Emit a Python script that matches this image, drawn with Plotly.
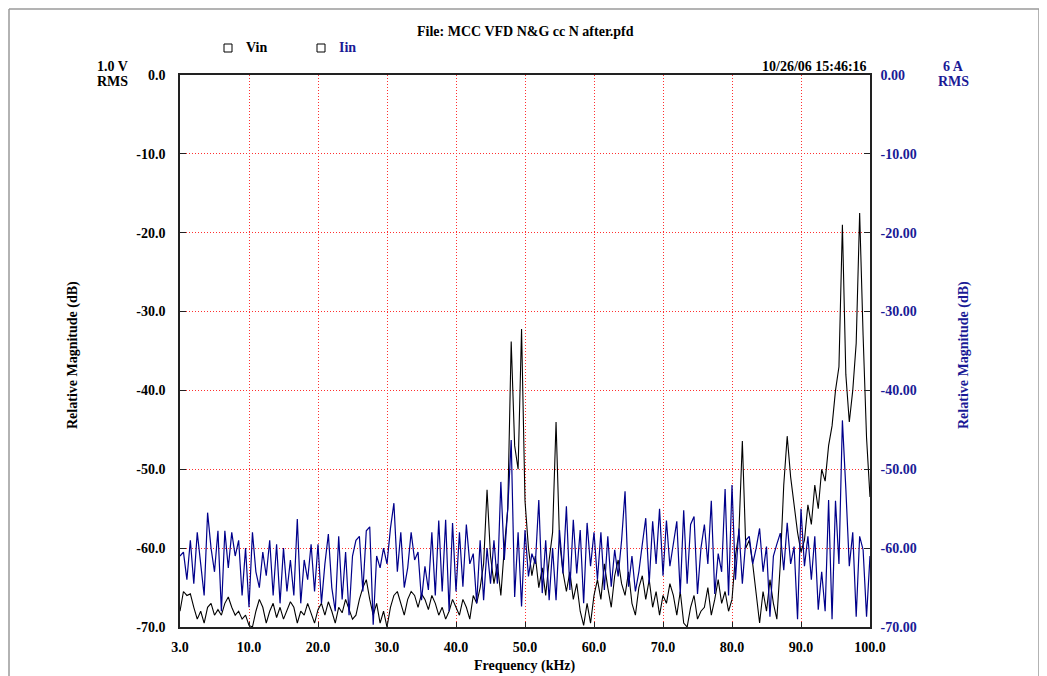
import plotly.graph_objects as go

# Frequency axis positions (axis units 0..100, first tick labelled 3.0 kHz)
freq_step = 0.5
freq = [i * freq_step for i in range(201)]

x_tick_vals = [0, 10, 20, 30, 40, 50, 60, 70, 80, 90, 100]
x_tick_text = ["3.0", "10.0", "20.0", "30.0", "40.0", "50.0", "60.0", "70.0", "80.0", "90.0", "100.0"]
y_tick_vals = [0, -10, -20, -30, -40, -50, -60, -70]
y_left_text = ["0.0", "-10.0", "-20.0", "-30.0", "-40.0", "-50.0", "-60.0", "-70.0"]
y_right_text = ["0.00", "-10.00", "-20.00", "-30.00", "-40.00", "-50.00", "-60.00", "-70.00"]

vin_db = [
    -68, -65.5, -66, -65.8, -67.5, -69, -68, -69.5, -67.5, -67, -68.5, -67.8, -68.5, -67, -66.2, -67.5, -68.5, -68, -69, -68.5, -69.8,
    -70, -68, -66.5, -67.5, -69.5, -68, -67, -68.8, -67.5, -69, -68, -66.8, -67.5, -69.5, -68, -68.5, -67, -68.2, -69.5, -67.8,
    -67, -68.5, -66.8, -68, -69.5, -67.5, -68.2, -66.5, -67.8, -69, -68.5, -66.5, -65, -64, -66.5, -68.5, -67, -69.5, -68, -70,
    -67.5, -66, -65.5, -67, -68.5, -66.5, -65.5, -66, -67.5, -65.8, -66.5, -67.8, -66, -67, -68.5, -67.5, -69, -68, -66.5, -67.5,
    -68.5, -66.5, -67.5, -69, -66, -67, -65, -62, -52.6, -61, -64.5, -62, -66, -60, -55, -33.8, -47, -50, -32.2, -54,
    -60, -63.5, -61, -65, -62.5, -66, -61.5, -58, -44, -59, -63, -65.5, -63, -66.5, -64.5, -68, -69.8, -67, -69.5, -66,
    -64, -66.5, -62, -65, -67.5, -63.5, -61.5, -64.5, -66, -63, -67, -68.5, -65, -63.5, -66.5, -64, -67.5, -65.5, -68.5, -66,
    -67, -64.5, -66, -68.5, -65.5, -69.5, -70, -67.5, -66, -69, -68, -67.5, -65, -68.5, -66.5, -64, -67, -65.5, -68, -66.5,
    -61, -58, -46.4, -60, -59, -62, -66, -69.5, -65.5, -68, -64, -67, -69, -62, -52, -45.8, -51, -54.5, -58, -60.5,
    -59, -54.5, -57, -52, -55, -50, -51.5, -47, -44.5, -40, -37, -19, -38, -44, -40, -34, -17.5, -33, -46, -53.5,
]

iin_db = [
    -61, -60.5, -64, -59, -64.5, -58, -62, -66, -55.5, -60, -63, -57.8, -68, -57.8, -62.5, -58, -61, -59, -66, -60, -67.5,
    -58, -63, -65, -60.5, -63.5, -59, -66, -59.5, -67, -60, -65.5, -61.5, -66, -56.3, -67, -61.5, -64, -59.5, -65.5, -59.5,
    -67, -62, -58.2, -65, -68, -58.5, -66.5, -60.5, -68.5, -61, -59, -58.5, -65.5, -57.8, -57.3, -69.7, -61, -62.5, -60, -62,
    -57.5, -54.3, -63, -58, -65, -62.5, -58, -61.5, -60.5, -66.6, -62.3, -65.3, -58, -66, -56.5, -65.5, -56.4, -68, -56.8, -65.5,
    -58, -64.9, -57, -62, -60.7, -67, -59, -66.6, -60, -64.5, -59, -64.5, -51.6, -61.5, -55, -46.3, -66.2, -58, -67.4, -57.7,
    -63.6, -60.7, -62, -53.9, -65.7, -59, -66.6, -60, -66.6, -57.7, -63.2, -54.7, -65.3, -56.4, -63.2, -57.7, -67, -56.8, -62.3, -58,
    -64, -58, -65.3, -58.5, -64.9, -60.2, -63.6, -59, -52.8, -64.9, -61, -65.5, -63, -59.5, -56.2, -64.5, -56.6, -62, -55, -63.5,
    -56.5, -62.3, -59.3, -56.6, -65.8, -55.2, -64.5, -57, -56, -65.8, -60, -57, -62, -54, -65.8, -60.7, -63, -52.5, -66, -52,
    -64, -57.5, -64.5, -59, -58.5, -62, -60, -57.5, -63, -59.8, -68.7, -61, -59.5, -58.1, -62.8, -56.8, -62, -59.8, -69, -55,
    -62.3, -58.5, -64, -58.5, -67.8, -63, -68, -53.9, -69, -54, -62, -43.8, -52.5, -62.3, -58, -68.7, -58.5, -60.2, -68.7, -61,
]

BLACK = "#000000"
NAVY = "#00008B"
LABEL_BLUE = "#1a1a96"
FONT = "Liberation Serif"

OFF = 8  # page body margin in the browser
W, H = 1047 - OFF, 676 - OFF
L, R, T, B = 180 - OFF, 870 - OFF, 75 - OFF, 627 - OFF


def px(x):
    return (x - OFF - L) / (R - L)


def py(y):
    return (B - (y - OFF)) / (B - T)


fig = go.Figure()
fig.add_trace(go.Scatter(x=freq, y=vin_db, mode="lines", name="Vin",
                         line=dict(color=BLACK, width=1.1), showlegend=False))
fig.add_trace(go.Scatter(x=freq, y=iin_db, mode="lines", name="Iin", yaxis="y2",
                         line=dict(color=NAVY, width=1.2), showlegend=False))

tick_font = dict(family=FONT, size=14, color=BLACK, weight="bold")
GRID = "#ff3030"

fig.update_layout(
    width=W, height=H,
    margin=dict(l=L, r=W - R, t=T, b=H - B),
    paper_bgcolor="white", plot_bgcolor="white",
    xaxis=dict(range=[0, 100], tickvals=x_tick_vals, ticktext=x_tick_text,
               showgrid=True, gridcolor=GRID, griddash="1px,2px", gridwidth=1,
               zeroline=False, showline=True, linecolor="#222222", linewidth=1.5, mirror=True,
               ticks="inside", ticklen=5, tickcolor="#222222", tickfont=tick_font,
               ticklabelstandoff=6),
    yaxis=dict(range=[-70, 0], tickvals=y_tick_vals, ticktext=y_left_text,
               showgrid=True, gridcolor=GRID, griddash="1px,2px", gridwidth=1,
               zeroline=False, showline=True, linecolor="#222222", linewidth=1.5, mirror=True,
               ticks="inside", ticklen=6, tickcolor="#222222", tickfont=tick_font,
               ticklabelstandoff=10),
    yaxis2=dict(range=[-70, 0], tickvals=y_tick_vals, ticktext=y_right_text,
                overlaying="y", side="right", showgrid=False, zeroline=False,
                showline=True, linecolor="#222222", linewidth=1.5,
                ticks="inside", ticklen=6, tickcolor="#222222",
                tickfont=dict(family=FONT, size=14, color=LABEL_BLUE, weight="bold"),
                ticklabelstandoff=6),
)


def ann(text, x, y, size=14, color=BLACK, xanchor="center", angle=0):
    fig.add_annotation(text=text, x=px(x), y=py(y), xref="paper", yref="paper",
                       showarrow=False, xanchor=xanchor, yanchor="middle",
                       textangle=angle,
                       font=dict(family=FONT, size=size, color=color, weight="bold"))


ann("File: MCC VFD N&amp;G cc N after.pfd", 525, 32)
ann("Vin", 244, 48, xanchor="left")
ann("Iin", 337, 48, color=LABEL_BLUE, xanchor="left")
ann("1.0 V", 112, 66)
ann("RMS", 112, 82)
ann("10/26/06 15:46:16", 869, 66, xanchor="right")
ann("6 A", 953, 66, color=LABEL_BLUE)
ann("RMS", 953, 82, color=LABEL_BLUE)
ann("Relative Magnitude (dB)", 73, 355, size=14, angle=-90)
ann("Relative Magnitude (dB)", 964, 355, size=14, color=LABEL_BLUE, angle=-90)
ann("Frequency (kHz)", 525, 666)

# legend boxes
for x0 in (224, 317):
    fig.add_shape(type="rect", xref="paper", yref="paper",
                  x0=px(x0), x1=px(x0 + 8), y0=py(52), y1=py(44),
                  line=dict(color=BLACK, width=1), fillcolor="white")

# page frame (top, left and right edges)
frame = dict(color="#9a9a9a", width=1.5)
fig.add_shape(type="line", xref="paper", yref="paper",
              x0=px(OFF + 1), x1=px(1039), y0=py(OFF + 1), y1=py(OFF + 1), line=frame)
fig.add_shape(type="line", xref="paper", yref="paper",
              x0=px(OFF + 1), x1=px(OFF + 1), y0=py(OFF + 1), y1=py(676), line=frame)
fig.add_shape(type="line", xref="paper", yref="paper",
              x0=px(1039), x1=px(1039), y0=py(OFF + 1), y1=py(676), line=frame)

fig.write_html("out.html")
